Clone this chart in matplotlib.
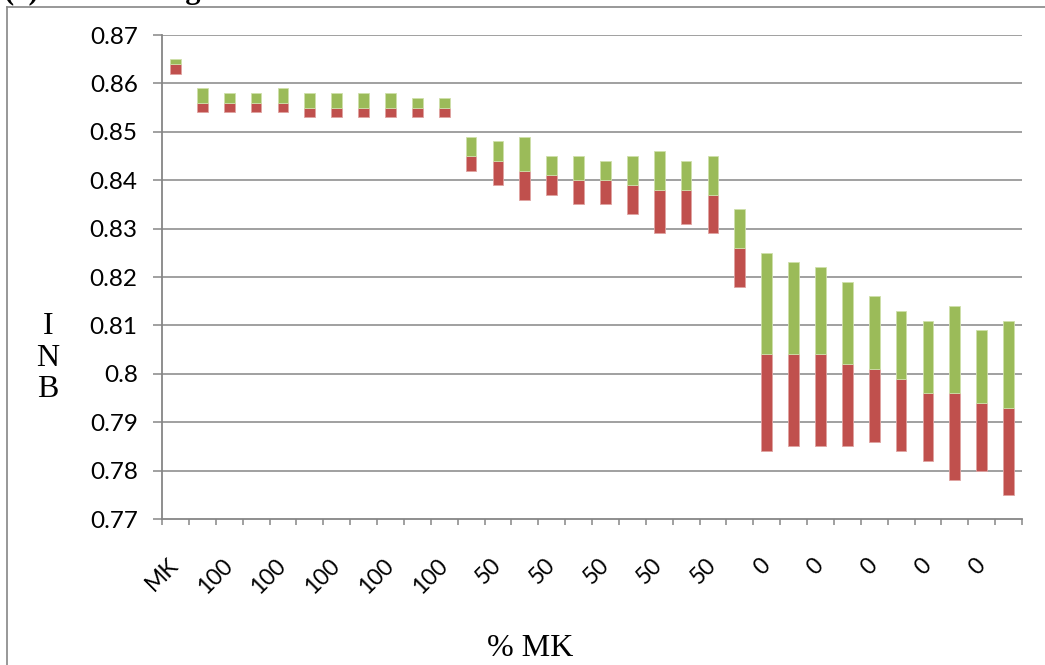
#librerias
import numpy as np
import matplotlib
matplotlib.use("Agg")
import matplotlib.pyplot as plt
from matplotlib.lines import Line2D

#DATOS

etiquetas = ["MK"] + ["100"] * 10 + ["50"] * 11 + ["0"] * 10

bajo = [0.862,
        0.854, 0.854, 0.854, 0.854, 0.853, 0.853, 0.853, 0.853, 0.853, 0.853,
        0.842, 0.839, 0.836, 0.837, 0.835, 0.835, 0.833, 0.829, 0.831, 0.829, 0.818,
        0.784, 0.785, 0.785, 0.785, 0.786, 0.784, 0.782, 0.778, 0.780, 0.775]

medio = [0.864,
         0.856, 0.856, 0.856, 0.856, 0.855, 0.855, 0.855, 0.855, 0.855, 0.855,
         0.845, 0.844, 0.842, 0.841, 0.840, 0.840, 0.839, 0.838, 0.838, 0.837, 0.826,
         0.804, 0.804, 0.804, 0.802, 0.801, 0.799, 0.796, 0.796, 0.794, 0.793]

alto = [0.865,
        0.859, 0.858, 0.858, 0.859, 0.858, 0.858, 0.858, 0.858, 0.857, 0.857,
        0.849, 0.848, 0.849, 0.845, 0.845, 0.844, 0.845, 0.846, 0.844, 0.845, 0.834,
        0.825, 0.823, 0.822, 0.819, 0.816, 0.813, 0.811, 0.814, 0.809, 0.811]

ticks_y = [0.77, 0.78, 0.79, 0.80, 0.81, 0.82, 0.83, 0.84, 0.85, 0.86, 0.87]

ROJO = "#C0504D"
VERDE = "#9BBB59"
GRIS = "#868686"

W, H = 1045, 665

fig = plt.figure(figsize=(W / 100, H / 100), dpi=100)
ax = fig.add_axes([162 / W, 1 - 519 / H, (1022 - 162) / W, (519 - 35) / H])

x = np.arange(len(etiquetas))
bajo = np.array(bajo)
medio = np.array(medio)
alto = np.array(alto)

ax.bar(x, medio - bajo, bottom=bajo, width=0.4, color=ROJO,
       edgecolor="#dfa3a1", linewidth=0.6, zorder=3)
ax.bar(x, alto - medio, bottom=medio, width=0.4, color=VERDE,
       edgecolor="#cfe0aa", linewidth=0.6, zorder=3)

ax.set_xlim(-0.5, len(etiquetas) - 0.5)
ax.set_ylim(0.77, 0.87)

#eje y
ax.set_yticks(ticks_y)
ax.set_yticklabels([("%.2f" % v).rstrip("0").rstrip(".") for v in ticks_y],
                   fontsize=17.5, family="Lato")
ax.tick_params(axis="y", length=6.5, width=1.1, color=GRIS, pad=11)
for v in ticks_y[1:]:
    ax.axhline(v, color=GRIS, lw=1.1, zorder=1)

#eje x: marcas en los bordes, etiquetas cada dos categorias
ax.set_xticks(np.arange(-0.5, len(etiquetas), 1))
ax.set_xticklabels([])
ax.tick_params(axis="x", which="major", length=4.5, width=1.1, color=GRIS)
pos = x[::2]
ax.set_xticks(pos, minor=True)
ax.set_xticklabels([etiquetas[i] for i in pos], minor=True, rotation=45,
                   ha="right", va="center", rotation_mode="anchor",
                   fontsize=16.5, family="Lato")
ax.tick_params(axis="x", which="minor", length=0, pad=31)

for s in ["top", "right"]:
    ax.spines[s].set_visible(False)
for s in ["left", "bottom"]:
    ax.spines[s].set_color(GRIS)
    ax.spines[s].set_linewidth(1.3)

#titulos de ejes
fig.text(48 / W, 1 - 358 / H, "I\nN\nB", family="Liberation Serif", fontsize=23,
         ha="center", va="center", linespacing=1.12)
fig.text(530 / W, 1 - 648 / H, "% MK", family="Liberation Serif", fontsize=23,
         ha="center", va="center")

#marco y titulo cortado arriba
fig.add_artist(Line2D([7 / W, 1], [1 - 7 / H, 1 - 7 / H], color=GRIS, lw=1.2,
                      transform=fig.transFigure))
fig.add_artist(Line2D([7 / W, 7 / W], [0, 1 - 7 / H], color=GRIS, lw=1.2,
                      transform=fig.transFigure))
fig.text(4 / W, 1 + 2 / H, "(a)", family="Liberation Serif", fontsize=22,
         weight="bold", ha="left", va="baseline")
fig.text(201 / W, 1 + 2 / H, "Ranking", family="Liberation Serif", fontsize=22,
         weight="bold", ha="right", va="baseline")

fig.savefig("out.png", dpi=100)
